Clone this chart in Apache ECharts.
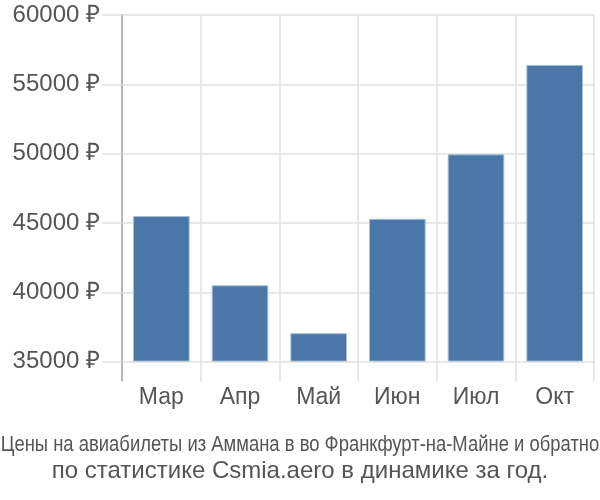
<!DOCTYPE html>
<html><head><meta charset="utf-8">
<script src="https://cdn.jsdelivr.net/npm/echarts@6/dist/echarts.min.js"></script>
<style>html,body{margin:0;padding:0;background:#fff}#c{width:600px;height:500px}</style>
</head><body><div id="c"></div>
<script>
const categories = ['Мар', 'Апр', 'Май', 'Июн', 'Июл', 'Окт'];
const prices = [45500, 40500, 37050, 45300, 49950, 56400];
const yTicks = [35000, 40000, 45000, 50000, 55000, 60000];
const axisMin = 33600;
const axisMax = 60000;
const baseValue = 35000;
const titleLine1 = 'Цены на авиабилеты из Аммана в во Франкфурт-на-Майне и обратно';
const titleLine2 = 'по статистике Csmia.aero в динамике за год.';

const chart = echarts.init(document.getElementById('c'), null, {renderer: 'canvas'});
chart.setOption({
  animation: false,
  graphic: [
    {type: 'text', x: 300, y: 445, scaleX: 0.838, silent: true,
      style: {text: titleLine1, fontFamily: 'Liberation Sans, sans-serif', fontSize: 22, fill: '#555', textAlign: 'center', textVerticalAlign: 'middle'}},
    {type: 'text', x: 300, y: 471, silent: true,
      style: {text: titleLine2, fontFamily: 'Liberation Sans, sans-serif', fontSize: 24, fill: '#555', textAlign: 'center', textVerticalAlign: 'middle'}}
  ],
  grid: {left: 122, right: 6, top: 15, bottom: 119, containLabel: false},
  xAxis: {
    type: 'category', data: categories,
    axisLine: {show: false}, axisTick: {show: false},
    splitLine: {show: true, interval: 0, lineStyle: {color: '#e0e0e0', width: 1.5}},
    axisLabel: {color: '#555', fontSize: 23, fontFamily: 'Liberation Sans, sans-serif', margin: 5, interval: 0}
  },
  yAxis: {
    type: 'value', min: axisMin, max: axisMax,
    axisLine: {show: true, lineStyle: {color: '#aaa', width: 1.5}},
    axisTick: {show: true, customValues: yTicks, length: 20, lineStyle: {color: '#e0e0e0', width: 1.5}},
    splitLine: {show: true, lineStyle: {color: '#e0e0e0', width: 1.5}},
    axisLabel: {customValues: yTicks, color: '#555', fontSize: 24, fontFamily: 'Liberation Sans, sans-serif', margin: 22,
      formatter: v => v + ' ₽'}
  },
  series: [
    {type: 'bar', stack: 'p', data: categories.map(() => baseValue), itemStyle: {color: 'transparent'}, barWidth: '72%', silent: true},
    {type: 'bar', stack: 'p', data: prices.map(v => v - baseValue), barWidth: '72%',
      itemStyle: {color: '#4a77a7', borderColor: '#a8bfd8', borderWidth: 1}}
  ]
});
</script></body></html>
